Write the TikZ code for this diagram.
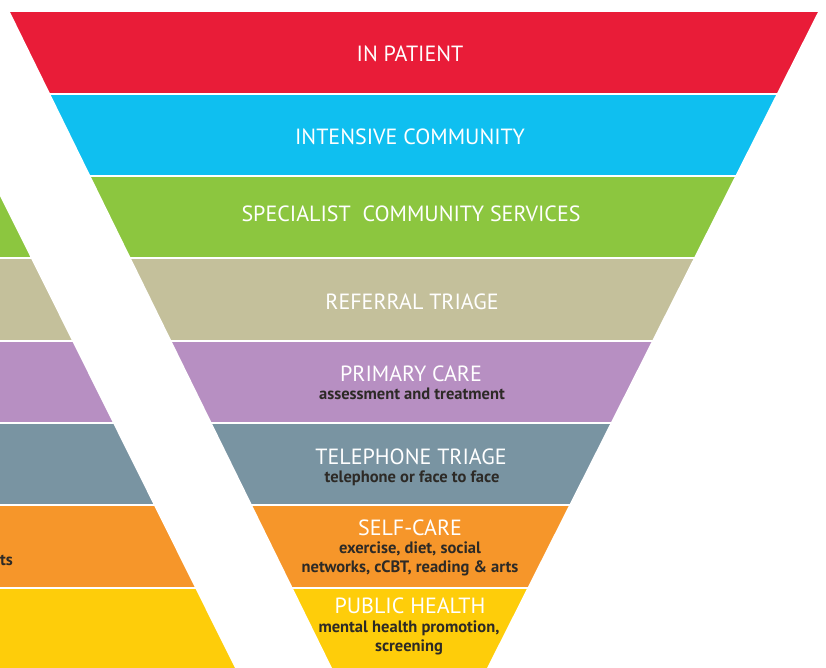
\documentclass[tikz,border=0pt]{standalone}
\usepackage{fontspec}
\setmainfont{PT Sans}
\usepackage{tikz}
\usetikzlibrary{positioning}
\definecolor{inred}{HTML}{E91C38}
\definecolor{inblue}{HTML}{0FBFF0}
\definecolor{ingreen}{HTML}{8CC63F}
\definecolor{intan}{HTML}{C4C09B}
\definecolor{inpurple}{HTML}{B78FC2}
\definecolor{inslate}{HTML}{7994A2}
\definecolor{inorange}{HTML}{F6962A}
\definecolor{inyellow}{HTML}{FECD0A}
\definecolor{subgrey}{HTML}{2D2A26}
\tikzset{tiername/.style = {text=white, anchor=base, inner sep=0pt,
                            font=\fontsize{22}{26}\selectfont}}
\tikzset{tiersub/.style = {text=subgrey, anchor=base, inner sep=0pt, align=center,
                           font=\fontsize{16.5}{19}\selectfont\bfseries}}

\begin{document}
\begin{tikzpicture}[x=1pt, y=-1pt]
    \useasboundingbox (0, 0) rectangle (826, 668);
    \clip (0, 0) rectangle (826, 668);

    \fill [inred] (0, 12) rectangle (826, 94);
    \fill [inblue] (0, 94) rectangle (826, 176);
    \fill [ingreen] (0, 176) rectangle (826, 258);
    \fill [intan] (0, 258) rectangle (826, 341);
    \fill [inpurple] (0, 341) rectangle (826, 423);
    \fill [inslate] (0, 423) rectangle (826, 505);
    \fill [inorange] (0, 505) rectangle (826, 588);
    \fill [inyellow] (0, 588) rectangle (826, 668);

    \draw [white, line width=2pt] (0, 94) -- (826, 94) (0, 176) -- (826, 176)
          (0, 258) -- (826, 258) (0, 341) -- (826, 341) (0, 423) -- (826, 423)
          (0, 505) -- (826, 505) (0, 588) -- (826, 588);

    \fill [white] (0, 0) -- (4.1, 0) -- (332, 668) -- (235, 668) -- (0, 196) -- cycle;
    \fill [white] (818, 12) -- (487, 668) -- (826, 668) -- (826, 0) -- (818, 0) -- cycle;

    \node [tiername] (inpatient) at (410, 62) {IN PATIENT};
    \node [tiername] (intensive) at (410, 144.5) {INTENSIVE COMMUNITY};
    \node [tiername] (specialist) at (411, 222) {SPECIALIST\ \ COMMUNITY SERVICES};
    \node [tiername] (referral) at (412, 309.5) {REFERRAL TRIAGE};
    \node [tiername] (primary) at (411, 381) {PRIMARY CARE};
    \node [tiersub] (primarysub) at (412, 399) {assessment and treatment};
    \node [tiername] (telephone) at (411, 464) {TELEPHONE TRIAGE};
    \node [tiersub] (telephonesub) at (412, 482) {telephone or face to face};
    \node [tiername] (selfcare) at (410, 535) {SELF-CARE};
    \node [tiersub] (selfcaresub) at (410, 572) {exercise, diet, social\\networks, cCBT, reading \& arts};
    \node [tiername] (publichealth) at (410, 613) {PUBLIC HEALTH};
    \node [tiersub] (publicsub) at (409, 651) {mental health promotion,\\screening};

    \node [tiersub, anchor=base east] (artsend) at (13, 565) {ts};
  \end{tikzpicture}
\end{document}
